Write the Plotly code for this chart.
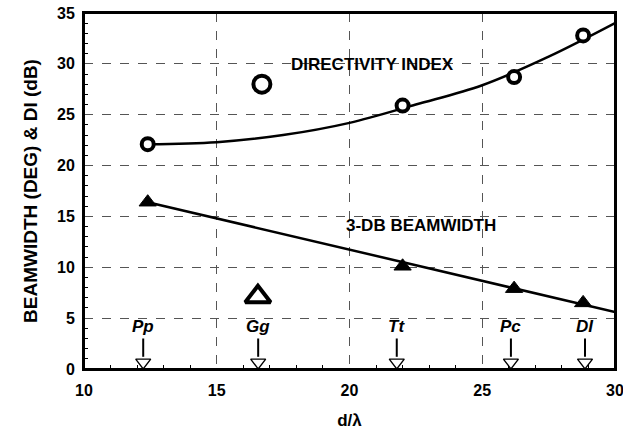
import plotly.graph_objects as go

# Measured points
x_meas = [12.4, 22.0, 26.2, 28.8]
di_meas = [22.1, 25.9, 28.7, 32.8]
bw_meas = [16.4, 10.1, 7.9, 6.5]

# Smooth directivity-index trend curve
di_fit_x = [12.4, 15.0, 17.5, 20.0, 22.5, 25.0, 27.5, 30.0]
di_fit_y = [22.1, 22.3, 23.0, 24.2, 26.0, 27.9, 30.7, 34.0]

# Straight beamwidth trend line
bw_fit_x = [12.4, 30.0]
bw_fit_y = [16.4, 5.6]

# Reference (open) symbols
ref_x = [16.7, 16.55]
ref_y = [28.0, 7.1]

# Species markers along the d/lambda axis
species = ["Pp", "Gg", "Tt", "Pc", "DI"]
species_x = [12.23, 16.56, 21.78, 26.08, 28.87]

FONT = "Arial, Liberation Sans, sans-serif"

fig = go.Figure()

fig.add_trace(go.Scatter(x=di_fit_x, y=di_fit_y, mode="lines",
                         line=dict(color="black", width=2.5, shape="spline"),
                         hoverinfo="skip"))
fig.add_trace(go.Scatter(x=bw_fit_x, y=bw_fit_y, mode="lines",
                         line=dict(color="black", width=2.5), hoverinfo="skip"))
fig.add_trace(go.Scatter(x=x_meas, y=di_meas, mode="markers",
                         marker=dict(symbol="circle", size=12, color="white",
                                     line=dict(color="black", width=4))))
fig.add_trace(go.Scatter(x=x_meas, y=bw_meas, mode="markers",
                         marker=dict(symbol="triangle-up", size=15, color="black",
                                     line=dict(color="black", width=1))))
fig.add_trace(go.Scatter(x=ref_x[:1], y=ref_y[:1], mode="markers",
                         marker=dict(symbol="circle-open", size=17, color="black",
                                     line=dict(color="black", width=4))))
fig.add_trace(go.Scatter(x=ref_x[1:], y=ref_y[1:], mode="markers",
                         marker=dict(symbol="triangle-up-open", size=22, color="black",
                                     line=dict(color="black", width=4))))

# Arrow shafts and open heads
for sx in species_x:
    fig.add_shape(type="line", x0=sx, x1=sx, y0=3.0, y1=1.2,
                  line=dict(color="black", width=2))
fig.add_trace(go.Scatter(x=species_x, y=[0.65] * len(species_x), mode="markers",
                         marker=dict(symbol="triangle-down", size=13, color="white",
                                     line=dict(color="black", width=1.4))))

for name, sx in zip(species, species_x):
    fig.add_annotation(x=sx, y=4.2, text=f"<b><i>{name}</i></b>", showarrow=False,
                       font=dict(family=FONT, size=17, color="black"))

fig.add_annotation(x=20.85, y=29.9, text="<b>DIRECTIVITY INDEX</b>", showarrow=False,
                   font=dict(family=FONT, size=17, color="black"))
fig.add_annotation(x=22.7, y=14.1, text="<b>3-DB BEAMWIDTH</b>", showarrow=False,
                   font=dict(family=FONT, size=17, color="black"))

# Plot frame
fig.add_shape(type="rect", xref="paper", yref="paper", x0=0, x1=1, y0=0, y1=1,
              line=dict(color="black", width=2), layer="above")

axis_common = dict(showline=True, linecolor="black", linewidth=2, mirror=True,
                   showgrid=True, gridcolor="#555555", griddash="dash", gridwidth=1,
                   zeroline=False, ticks="", color="black", automargin=False,
                   ticklabeloverflow="allow",
                   tickfont=dict(family=FONT, size=16, color="black", weight="bold"))

fig.update_xaxes(range=[10, 30], dtick=5, tick0=10, ticklabelstandoff=6,
                 title=dict(text="<b>d/λ</b>", font=dict(family=FONT, size=17), standoff=16),
                 minor=dict(ticks="inside", dtick=1, ticklen=4, tickcolor="black",
                            showgrid=False),
                 **axis_common)
fig.update_yaxes(range=[0, 35], dtick=5, tick0=0, ticklabelstandoff=4,
                 title=dict(text="<b>BEAMWIDTH (DEG) & DI (dB)</b>",
                            font=dict(family=FONT, size=19), standoff=14),
                 minor=dict(ticks="inside", dtick=1, ticklen=4, tickcolor="black",
                            showgrid=False),
                 **axis_common)

fig.update_layout(width=623, height=432, showlegend=False,
                  margin=dict(l=84, r=8, t=13, b=63),
                  paper_bgcolor="white", plot_bgcolor="white",
                  font=dict(family=FONT, color="black"))

fig.write_html("out.html")
